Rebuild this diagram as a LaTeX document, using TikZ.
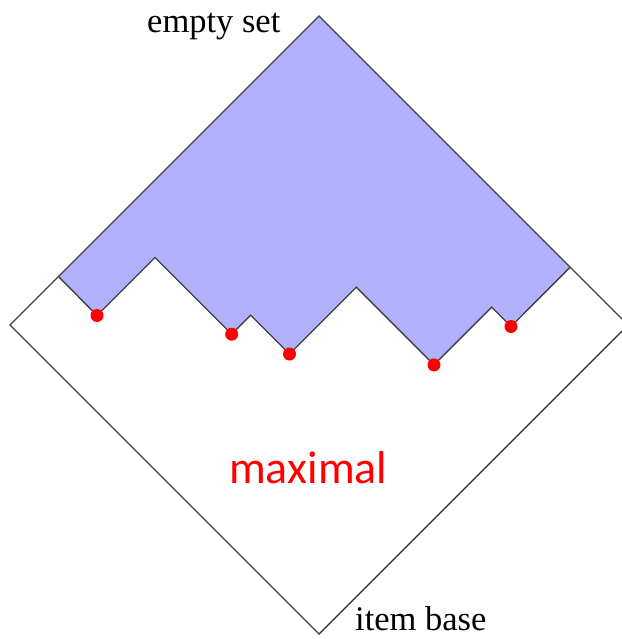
\documentclass[tikz,border=0pt]{standalone}
\usepackage{fontspec}
\setmainfont{Liberation Serif}
\newfontfamily\calib{Carlito}
\definecolor{lav}{RGB}{177,177,252}
\definecolor{edge}{RGB}{65,65,65}
\begin{document}
\begin{tikzpicture}[x=1pt,y=-1pt,
  outline/.style={draw=edge,line width=1.4pt,line join=miter},
  dotmark/.style={circle,fill=red,inner sep=0pt,minimum size=13pt},
  lbl/.style={font=\fontsize{34.5}{36}\selectfont,inner sep=0pt,anchor=base west}]
\useasboundingbox (0,0) rectangle (621,639);
% corners of the lattice
\coordinate (T) at (319,16);
\coordinate (L) at (10,325);
\coordinate (B) at (319,634);
\coordinate (R) at (628,325);
% border of the region
\coordinate (F0) at (58.5,276.5);
\coordinate (D1) at (97,315.5);
\coordinate (P1) at (155,257.5);
\coordinate (D2) at (231.7,334.2);
\coordinate (P2) at (250.7,315.2);
\coordinate (D3) at (289.5,354);
\coordinate (P3) at (356.3,287.2);
\coordinate (D4) at (434,364.9);
\coordinate (P4) at (491.7,307.2);
\coordinate (D5) at (511,326.5);
\coordinate (F1) at (570.2,267.2);
\fill[lav] (T) -- (F0) -- (D1) -- (P1) -- (D2) -- (P2) -- (D3) -- (P3) -- (D4) -- (P4) -- (D5) -- (F1) -- cycle;
\draw[outline] (T) -- (L) -- (B) -- (R) -- cycle;
\draw[outline] (F0) -- (D1) -- (P1) -- (D2) -- (P2) -- (D3) -- (P3) -- (D4) -- (P4) -- (D5) -- (F1);
\foreach \d in {1,...,5} \node[dotmark] (m\d) at (D\d) {};
\node[lbl] (es) at (147,33) {empty set};
\node[lbl] (ib) at (355,630) {item base};
\node[inner sep=0pt,anchor=base west,text=red,font=\calib\fontsize{46}{48}\selectfont] (mx) at (229,483) {maximal};
\end{tikzpicture}
\end{document}
